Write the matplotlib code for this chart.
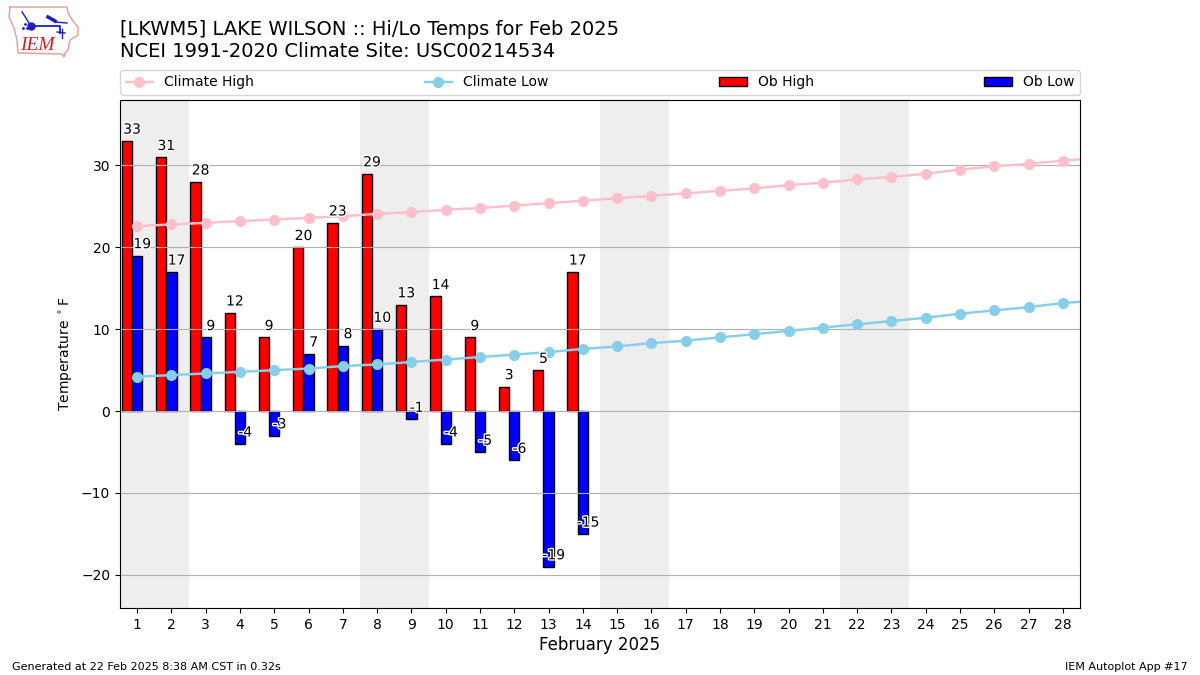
import matplotlib
matplotlib.use("Agg")
import matplotlib.pyplot as plt
import matplotlib.patheffects as PathEffects
import numpy as np

days = list(range(1, 29))
clim_days = list(range(1, 30))
clim_high = [22.6, 22.8, 23.0, 23.2, 23.4, 23.6, 23.8, 24.1, 24.3, 24.6,
             24.8, 25.1, 25.4, 25.7, 26.0, 26.3, 26.6, 26.9, 27.2, 27.6,
             27.9, 28.3, 28.6, 29.0, 29.5, 29.9, 30.2, 30.6, 30.9]
clim_low = [4.2, 4.4, 4.6, 4.8, 5.0, 5.2, 5.5, 5.7, 6.0, 6.3,
            6.6, 6.9, 7.2, 7.6, 7.9, 8.3, 8.6, 9.0, 9.4, 9.8,
            10.2, 10.6, 11.0, 11.4, 11.9, 12.3, 12.7, 13.2, 13.5]
ob_days = list(range(1, 15))
ob_high = [33, 31, 28, 12, 9, 20, 23, 29, 13, 14, 9, 3, 5, 17]
ob_low = [19, 17, 9, -4, -3, 7, 8, 10, -1, -4, -5, -6, -19, -15]
weekends = [(0.5, 2.5), (7.5, 9.5), (14.5, 16.5), (21.5, 23.5)]

fig = plt.figure(figsize=(12, 6.75), dpi=100)
ax = fig.add_axes([0.1, 1 - 608 / 675, 0.8, 508 / 675])

for start, end in weekends:
    ax.axvspan(start, end, color="#eeeeee", lw=0, zorder=0.5)

ob_x = np.array(ob_days)
ax.bar(ob_x - 0.3, ob_high, width=0.3, color="r", edgecolor="k", lw=1, label="Ob High")
ax.bar(ob_x, ob_low, width=0.3, color="b", edgecolor="k", lw=1, label="Ob Low")
ax.plot(clim_days, clim_high, color="pink", marker="o", lw=1.75, ms=7, label="Climate High")
ax.plot(clim_days, clim_low, color="skyblue", marker="o", lw=1.75, ms=7, label="Climate Low")

stroke = [PathEffects.withStroke(linewidth=2, foreground="white")]
for x_, hi, lo in zip(ob_days, ob_high, ob_low):
    ax.text(x_ - 0.15, hi + 0.9, str(hi), fontsize=10, ha="center", zorder=5, path_effects=stroke)
    ax.text(x_ + 0.15, lo + 0.9, str(lo), fontsize=10, ha="center", zorder=5, path_effects=stroke)

ax.set_xlim(0.5, 28.5)
ax.set_ylim(-24.05, 38.0)
ax.set_xticks(days)
ax.set_yticks(range(-20, 31, 10))
ax.grid(True, axis="y")
ax.set_xlabel("February 2025", fontsize=12, labelpad=3)
ax.set_ylabel(r"Temperature $^\circ$F")

handles, labels = ax.get_legend_handles_labels()
order = [labels.index(n) for n in ["Climate High", "Climate Low", "Ob High", "Ob Low"]]
ax.legend([handles[i] for i in order], [labels[i] for i in order], ncol=4, mode="expand",
          loc="lower left", bbox_to_anchor=(0, 1.01, 1, 0.05), borderaxespad=0, fontsize=10)

fig.text(0.1, 1 - 35 / 675, "[LKWM5] LAKE WILSON :: Hi/Lo Temps for Feb 2025", fontsize=14)
fig.text(0.1, 1 - 57 / 675, "NCEI 1991-2020 Climate Site: USC00214534", fontsize=14)
fig.text(12 / 1200, 1 - 670 / 675, "Generated at 22 Feb 2025 8:38 AM CST in 0.32s", fontsize=8)
fig.text(1188 / 1200, 1 - 670 / 675, "IEM Autoplot App #17", fontsize=8, ha="right")

# logo, drawn in pixel coordinates
logo = fig.add_axes([0, 1 - 60 / 675, 90 / 1200, 60 / 675])
logo.set_xlim(0, 90)
logo.set_ylim(60, 0)
logo.axis("off")
logo.plot([10, 67, 68, 73, 78, 78, 70, 68, 65, 64, 62, 18, 17, 14, 9, 10, 10],
          [7, 7, 13, 21, 27, 35, 40, 50, 53, 57, 54, 53, 40, 28, 17, 7, 7],
          color="#e59a9a", lw=1)
logo.plot([31, 60, 60], [26, 26, 33], color="#1a1ad0", lw=1.3)
logo.plot([31], [26], "o", color="#1a1ad0", ms=5)
logo.plot([48, 55], [17, 21], color="#1a1ad0", lw=2.5)
logo.plot([55, 67], [22, 23], color="#1a1ad0", lw=1)
logo.plot([22, 26, 30], [12, 18, 25], color="#1a1ad0", lw=1)
logo.plot([25, 23, 27], [24, 28, 28], ".", color="#1a1ad0", ms=2)
logo.plot([62, 62], [29, 38], color="#1a1ad0", lw=1)
logo.plot([57, 65], [32, 33], color="#1a1ad0", lw=1)
logo.text(37.5, 46, "IEM", color="#d0202a", family="Liberation Serif", style="italic",
          fontsize=14, ha="center", va="center")

fig.savefig("out.png", dpi=100)
